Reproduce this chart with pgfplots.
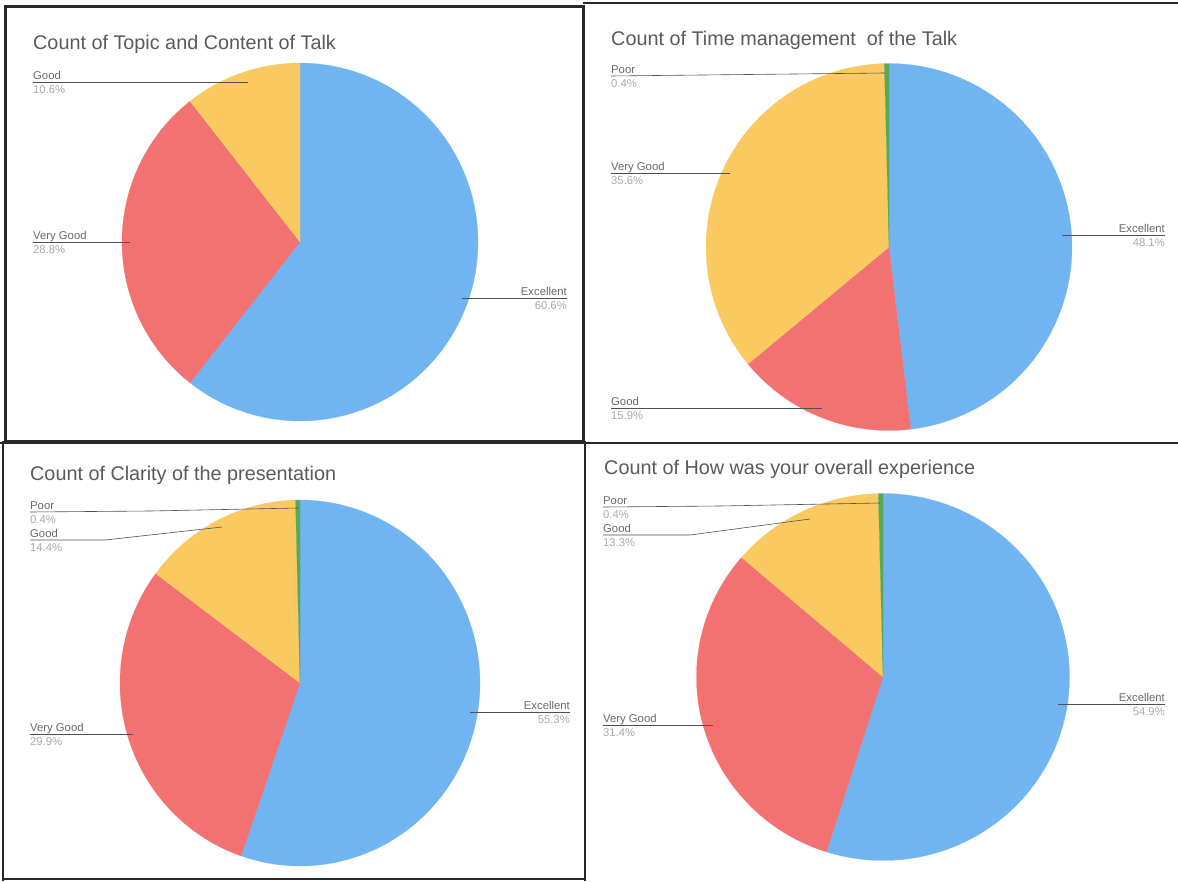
\documentclass[border=0pt]{standalone}
\usepackage{pgfplots}
\pgfplotsset{compat=1.18}
\usepackage{fontspec}
\setmainfont{Liberation Sans}
\definecolor{cblue}{RGB}{112,181,242}
\definecolor{cred}{RGB}{242,114,114}
\definecolor{cyellow}{RGB}{250,201,96}
\definecolor{cgreen}{RGB}{88,168,92}
\definecolor{ctitle}{RGB}{90,90,90}
\definecolor{cname}{RGB}{105,105,105}
\definecolor{cpct}{RGB}{170,170,170}
\definecolor{cframe}{RGB}{40,40,40}
\definecolor{cline}{RGB}{80,80,80}

% one wedge: colour, cumulative start %, cumulative end % (clockwise from 12 o'clock)
\newcommand{\slice}[3]{%
  \pgfmathsetmacro\sa{90-3.6*(#2)}%
  \pgfmathsetmacro\sb{90-3.6*(#3)}%
  \edef\doslice{\noexpand\addplot[draw=#1, line width=0.2pt, fill=#1, domain=\sa:\sb, samples=150] ({cos(x)},{sin(x)}) -- (axis cs:0,0) -- cycle;}%
  \doslice}

\newcommand{\titl}[3]{\node[anchor=base west, inner sep=0pt, text=ctitle, font=\fontsize{19.8}{21}\selectfont] at (#1pt,-#2pt) {#3};}
% left label: x, y of leader line, name, percent
\newcommand{\llab}[4]{%
  \node[anchor=base west, inner sep=0pt, text=cname, font=\fontsize{11.3}{12}\selectfont, yshift=2.5pt] at (#1pt,-#2pt) {#3};
  \node[anchor=base west, inner sep=0pt, text=cpct, font=\fontsize{11.3}{12}\selectfont, yshift=-11.5pt] at (#1pt,-#2pt) {#4};}
\newcommand{\rlab}[4]{%
  \node[anchor=base east, inner sep=0pt, text=cname, font=\fontsize{11.3}{12}\selectfont, yshift=2.5pt] at (#1pt,-#2pt) {#3};
  \node[anchor=base east, inner sep=0pt, text=cpct, font=\fontsize{11.3}{12}\selectfont, yshift=-11.5pt] at (#1pt,-#2pt) {#4};}

\pgfplotsset{pieaxis/.style={anchor=origin, scale only axis, xmin=-1, xmax=1, ymin=-1, ymax=1, hide axis, clip=false}}

\begin{document}
\begin{tikzpicture}
\path[use as bounding box, fill=white] (0pt,0pt) rectangle (1178pt,-881pt);

% ---------- Chart 1: Topic and Content of Talk ----------
\begin{axis}[pieaxis, at={(300pt,-242pt)}, width=356pt, height=358pt]
\slice{cblue}{0}{60.6}
\slice{cred}{60.6}{89.4}
\slice{cyellow}{89.4}{100}
\end{axis}
\titl{33}{49}{Count of Topic and Content of Talk}
\draw[cline, line width=0.6pt] (33pt,-82pt) -- (248pt,-82pt);
\llab{33}{82}{Good}{10.6\%}
\draw[cline, line width=0.6pt] (33pt,-242pt) -- (130pt,-242pt);
\llab{33}{242}{Very Good}{28.8\%}
\draw[cline, line width=0.6pt] (462pt,-298pt) -- (567pt,-298pt);
\rlab{567}{298}{Excellent}{60.6\%}

% ---------- Chart 2: Time management of the Talk ----------
\begin{axis}[pieaxis, at={(889pt,-247pt)}, width=366pt, height=367pt]
\slice{cblue}{0}{48.1}
\slice{cred}{48.1}{64.0}
\slice{cyellow}{64.0}{99.6}
\slice{cgreen}{99.6}{100}
\end{axis}
\titl{611}{45}{Count of Time management\ \ of the Talk}
\draw[cline, line width=0.6pt] (611pt,-76pt) -- (885pt,-73pt);
\llab{611}{76}{Poor}{0.4\%}
\draw[cline, line width=0.6pt] (611pt,-173pt) -- (730pt,-173pt);
\llab{611}{173}{Very Good}{35.6\%}
\draw[cline, line width=0.6pt] (1062pt,-235pt) -- (1165pt,-235pt);
\rlab{1165}{235}{Excellent}{48.1\%}
\draw[cline, line width=0.6pt] (611pt,-408pt) -- (822pt,-408pt);
\llab{611}{408}{Good}{15.9\%}

% ---------- Chart 3: Clarity of the presentation ----------
\begin{axis}[pieaxis, at={(300pt,-683pt)}, width=360pt, height=366pt]
\slice{cblue}{0}{55.3}
\slice{cred}{55.3}{85.2}
\slice{cyellow}{85.2}{99.6}
\slice{cgreen}{99.6}{100}
\end{axis}
\titl{30}{480}{Count of Clarity of the presentation}
\draw[cline, line width=0.6pt] (30pt,-512pt) -- (150pt,-511pt) -- (298pt,-508pt);
\llab{30}{512}{Poor}{0.4\%}
\draw[cline, line width=0.6pt] (30pt,-540pt) -- (105pt,-540pt) -- (222pt,-527pt);
\llab{30}{540}{Good}{14.4\%}
\draw[cline, line width=0.6pt] (30pt,-734pt) -- (133pt,-734pt);
\llab{30}{734}{Very Good}{29.9\%}
\draw[cline, line width=0.6pt] (470pt,-712pt) -- (570pt,-712pt);
\rlab{570}{712}{Excellent}{55.3\%}

% ---------- Chart 4: How was your overall experience ----------
\begin{axis}[pieaxis, at={(883pt,-677pt)}, width=373pt, height=367pt]
\slice{cblue}{0}{54.9}
\slice{cred}{54.9}{86.3}
\slice{cyellow}{86.3}{99.6}
\slice{cgreen}{99.6}{100}
\end{axis}
\titl{604}{474}{Count of How was your overall experience}
\draw[cline, line width=0.6pt] (603pt,-507pt) -- (720pt,-506pt) -- (880pt,-503pt);
\llab{603}{507}{Poor}{0.4\%}
\draw[cline, line width=0.6pt] (603pt,-535pt) -- (690pt,-535pt) -- (810pt,-519pt);
\llab{603}{535}{Good}{13.3\%}
\draw[cline, line width=0.6pt] (603pt,-725pt) -- (713pt,-725pt);
\llab{603}{725}{Very Good}{31.4\%}
\draw[cline, line width=0.6pt] (1058pt,-704pt) -- (1165pt,-704pt);
\rlab{1165}{704}{Excellent}{54.9\%}

% ---------- frames ----------
\draw[cframe, line width=3pt] (5pt,-6pt) rectangle (583pt,-441pt);
\draw[cframe, line width=2pt] (583pt,-3pt) -- (1178pt,-3pt);
\draw[cframe, line width=2pt] (0pt,-443pt) -- (1178pt,-443pt);
\draw[cframe, line width=2pt] (3pt,-441pt) -- (3pt,-881pt);
\draw[cframe, line width=2pt] (3pt,-879pt) -- (585pt,-879pt);
\draw[cframe, line width=2pt] (585pt,-441pt) -- (585pt,-881pt);
\end{tikzpicture}
\end{document}
